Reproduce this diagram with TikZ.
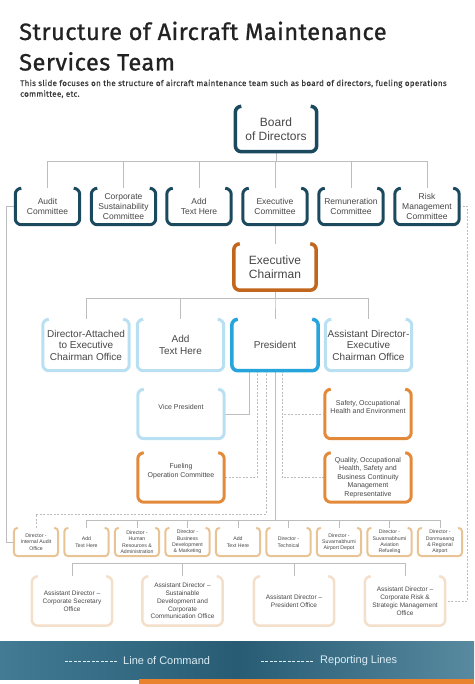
\documentclass[tikz,border=0pt]{standalone}
\usepackage{fontspec}
\setmainfont{Liberation Sans}
\newfontfamily\titlefont[FakeBold=0.9,LetterSpace=2]{Fira Sans}
\newfontfamily\blurbfont[FakeBold=0.3,LetterSpace=3]{Fira Sans}
\definecolor{navy}{HTML}{1B4A5F}
\definecolor{rust}{HTML}{C2661E}
\definecolor{amber}{HTML}{E2893A}
\definecolor{skyline}{HTML}{B9E0F2}
\definecolor{presblue}{HTML}{28A4DD}
\definecolor{tanline}{HTML}{E8C394}
\definecolor{peach}{HTML}{F4DFCB}
\definecolor{wire}{HTML}{BDBDBD}
\definecolor{bandA}{HTML}{2E6C88}
\definecolor{stripe}{HTML}{E9832F}
\definecolor{titleink}{HTML}{222222}
\definecolor{legendink}{HTML}{DCEEF5}
\tikzset{
  card/.style={rectangle, fill=white, align=center, inner sep=1pt, text=black!72},
  bigcard/.style={card, minimum width=82pt, minimum height=46pt, font=\fontsize{12}{14}\selectfont},
  comcard/.style={card, minimum width=64pt, minimum height=36pt, font=\fontsize{8.5}{10}\selectfont},
  midcard/.style={card, minimum width=86pt, minimum height=51pt, font=\fontsize{10}{11.5}\selectfont},
  subcard/.style={card, minimum width=86pt, minimum height=49pt, font=\fontsize{7}{8.4}\selectfont},
  dircard/.style={card, minimum width=44pt, minimum height=28pt, font=\fontsize{5.2}{6.3}\selectfont},
  astcard/.style={card, minimum width=80pt, minimum height=49pt, font=\fontsize{6.5}{7.8}\selectfont},
  cmdline/.style={draw=wire, line width=0.6pt},
  rptline/.style={draw=wire, line width=0.6pt, dash pattern=on 2pt off 1.5pt},
  keydash/.style={draw=legendink, line width=0.6pt, dash pattern=on 3pt off 1.5pt}
}
\begin{document}
\begin{tikzpicture}[x=1pt,y=-1pt]
\useasboundingbox (0,0) rectangle (474,684);
\node[anchor=base west, inner sep=0, text=titleink, font=\titlefont\fontsize{23.6}{26}\selectfont] (title1) at (19,40) {Structure of Aircraft Maintenance};
\node[anchor=base west, inner sep=0, text=titleink, font=\titlefont\fontsize{23.6}{26}\selectfont] (title2) at (19,70.5) {Services Team};
\node[anchor=north west, align=left, inner sep=0, text=black!78, font=\blurbfont\fontsize{8.1}{10.7}\selectfont] (blurb) at (20,79.5) {This slide focuses on the structure of aircraft maintenance  team such as board of directors, fueling operations\\committee,  etc.};

\node[bigcard, minimum width=81pt, minimum height=45pt] (bod) at (276,129) {Board\\of Directors};
\foreach \n/\x/\t in {aud/47.5/{Audit\\Committee}, css/123.5/{Corporate\\Sustainability\\Committee}, adt/199/{Add\\Text Here}, exe/275/{Executive\\Committee}, rem/351/{Remuneration\\Committee}, rsk/427/{Risk\\Management\\Committee}}
  \node[comcard] (\n) at (\x,206.5) {\t};
\node[bigcard] (ech) at (275,267) {Executive\\Chairman};
\foreach \n/\x/\t in {dae/86/{Director-Attached\\to Executive\\Chairman Office}, adh/180.5/{Add\\Text Here}, pre/275/{President}, ade/368.5/{Assistant Director-\\Executive\\Chairman Office}}
  \node[midcard] (\n) at (\x,345) {\t};
\node[subcard] (vp) at (181,414) {Vice President\\[6pt]};
\node[subcard] (fuel) at (181,477.5) {Fueling\\Operation Committee\\[6pt]};
\node[subcard] (saf) at (368,414) {Safety, Occupational\\Health and Environment\\[6pt]};
\node[subcard] (qua) at (368,477.5) {Quality, Occupational\\Health, Safety and\\Business Continuity\\Management\\Representative};
\foreach \i/\t in {1/{Director -\\Internal Audit\\Office}, 2/{Add\\Text Here}, 3/{Director -\\Human\\Resources \&\\Administration}, 4/{Director -\\Business\\Development\\\& Marketing}, 5/{Add\\Text Here}, 6/{Director -\\Technical}, 7/{Director -\\Suvarnabhumi\\Airport Depot}, 8/{Director -\\Suvarnabhumi\\Aviation\\Refueling}, 9/{Director -\\Donmueang\\\& Regional\\Airport}}
  \node[dircard] (d\i) at ({36+50.5*(\i-1)},542) {\t};
\foreach \i/\x/\t in {1/72/{Assistant Director --\\Corporate Secretary\\Office}, 2/182.5/{Assistant Director --\\Sustainable\\Development and\\Corporate\\Communication  Office}, 3/294/{Assistant Director --\\President Office}, 4/405/{Assistant Director --\\Corporate Risk \&\\Strategic Management\\Office}}
  \node[astcard] (a\i) at (\x,601) {\t};

\foreach \n in {aud,css,adt,exe,rem,rsk}
  \draw[cmdline] (bod.south) -- ++(0,9.5) -| (\n.north);
\draw[cmdline] (exe.south) -- (ech.north);
\foreach \n in {dae,adh,pre,ade}
  \draw[cmdline] (ech.south) -- ++(0,8.5) -| (\n.north);
\draw[cmdline] (aud.west) -- ++(-9.5,0) |- (d1.west);
\draw[rptline] (rsk.east) -- ++(8,0) |- (a4.east);
\draw[cmdline] ([xshift=-26pt]pre.south) |- (vp.east);
\draw[rptline] ([xshift=-18pt]pre.south) |- (fuel.east);
\draw[rptline] ([xshift=-9pt]pre.south) |- ([yshift=14pt]d1.north) -- (d1.north);
\foreach \i in {2,...,9}
  \draw[cmdline] (pre.south) |- ([yshift=8pt]d\i.north) -- (d\i.north);
\draw[rptline] ([xshift=7pt]pre.south) |- (saf.west);
\draw[rptline] ([xshift=7pt]pre.south) |- (qua.west);
\foreach \i in {2,3,4}
  \draw[cmdline] (a1.north) -- ++(0,-13.5) -| (a\i.north);

\foreach \n/\c/\w/\r in {bod/navy/3.5/6, aud/navy/3/6, css/navy/3/6, adt/navy/3/6, exe/navy/3/6, rem/navy/3/6, rsk/navy/3/6, ech/rust/3.5/6, dae/skyline/3/6, adh/skyline/3/6, pre/presblue/3.5/6, ade/skyline/3/6, vp/skyline/3/6, fuel/amber/3/6, saf/amber/3/6, qua/amber/3/6, d1/tanline/2/4, d2/tanline/2/4, d3/tanline/2/4, d4/tanline/2/4, d5/tanline/2/4, d6/tanline/2/4, d7/tanline/2/4, d8/tanline/2/4, d9/tanline/2/4, a1/peach/2.5/6, a2/peach/2.5/6, a3/peach/2.5/6, a4/peach/2.5/6}
  \draw[draw=\c, line width=\w pt, rounded corners=\r pt] ([xshift=\r pt]\n.north west) -- (\n.north west) -- (\n.south west) -- (\n.south east) -- (\n.north east) -- ([xshift=-\r pt]\n.north east);

\shade[left color=bandA!90!white, right color=bandA!80!white, middle color=bandA!85!black] (0,641) rectangle (474,679);
\fill[stripe] (139,679) rectangle (474,684);
\node[anchor=west, inner sep=0, text=legendink, font=\fontsize{11}{13}\selectfont] (cmdkey) at (123,661) {Line of Command};
\node[anchor=west, inner sep=0, text=legendink, font=\fontsize{11}{13}\selectfont] (rptkey) at (320,661) {Reporting Lines};
\draw[keydash] ([xshift=-6pt]cmdkey.west) -- ++(-54,0);
\draw[keydash] ([xshift=-7pt]rptkey.west) -- ++(-53,0);
\end{tikzpicture}
\end{document}
